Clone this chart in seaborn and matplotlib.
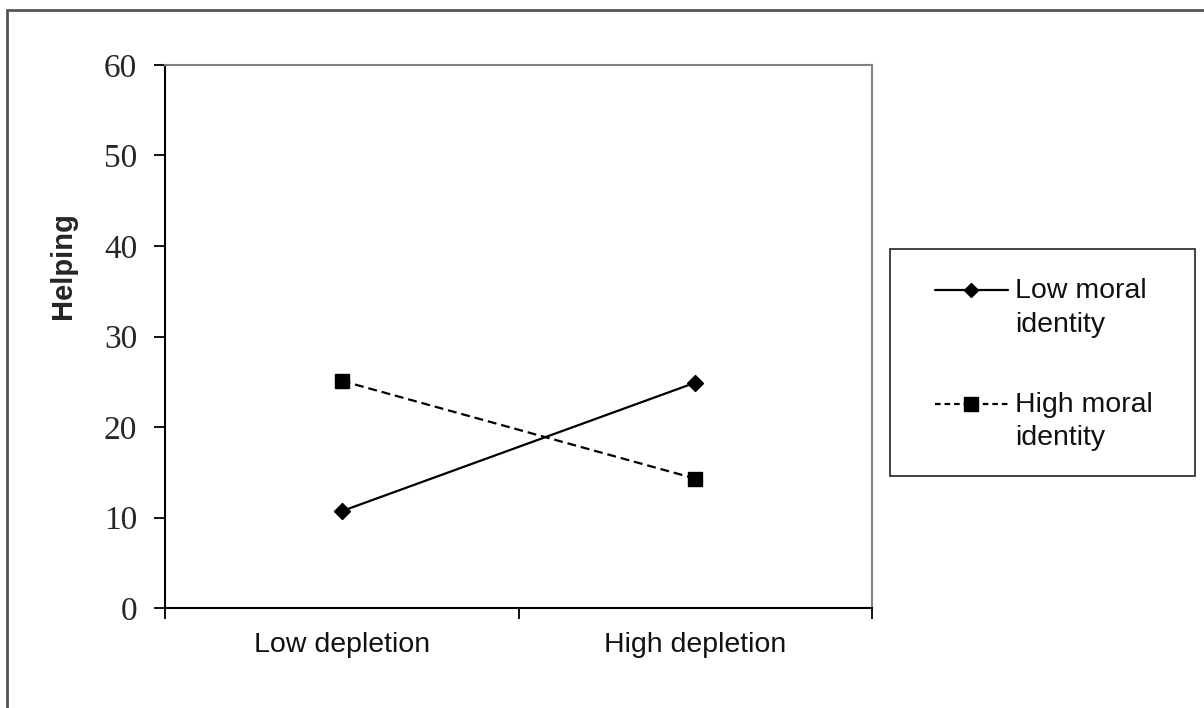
import numpy as np
import pandas as pd
import matplotlib
matplotlib.use("Agg")
import matplotlib.pyplot as plt
import seaborn as sns
from matplotlib.legend_handler import HandlerLine2D
from matplotlib.ticker import FixedLocator

# values
depletion = ["Low depletion", "High depletion"]
low_moral = [10.7, 24.9]
high_moral = [25.1, 14.3]
series_names = ["Low moral identity", "High moral identity"]
y_ticks = [0, 10, 20, 30, 40, 50, 60]

df = pd.DataFrame({
    "Depletion": depletion * 2,
    "Helping": low_moral + high_moral,
    "Identity": [series_names[0]] * 2 + [series_names[1]] * 2,
})

sns.set_style("ticks")

fig = plt.figure(figsize=(12.04, 7.08), dpi=100)
ax = fig.add_axes([165 / 1204, 1 - 608 / 708, 707 / 1204, 543 / 708])

markers = {series_names[0]: "D", series_names[1]: "s"}
dashes = {series_names[0]: "", series_names[1]: (4, 2.2)}
sns.lineplot(
    data=df, x="Depletion", y="Helping",
    hue="Identity", style="Identity",
    palette={n: "black" for n in series_names},
    markers=markers, dashes=dashes,
    sort=False, linewidth=1.6, markersize=10.5,
    markeredgecolor="black", markeredgewidth=1,
    legend=False, ax=ax,
)
for ln in ax.lines:
    if ln.get_marker() == "D":
        ln.set_markersize(8.5)

ax.set_xlim(-0.5, 1.5)
ax.set_ylim(0, 60)
ax.set_yticks(y_ticks)
ax.set_xticks([0, 1])
ax.set_xticklabels(depletion, fontfamily="Liberation Sans", fontsize=20.5, color="#111111")
ax.set_yticklabels([str(t) for t in y_ticks], fontfamily="Liberation Serif", fontsize=24)
ax.xaxis.set_minor_locator(FixedLocator([-0.5, 0.5, 1.5]))
ax.tick_params(axis="x", which="major", bottom=True, length=0, pad=17)
ax.tick_params(axis="x", which="minor", bottom=True, length=8, width=1.3, direction="out", color="black")
ax.tick_params(axis="y", which="major", left=True, length=8, width=1.3, direction="out", pad=12, color="black")

ax.set_xlabel("")
ax.set_ylabel("Helping", fontfamily="Liberation Sans", fontweight="bold", fontsize=21)
ax.yaxis.set_label_coords(-0.125, 0.63)

for side in ["left", "bottom"]:
    ax.spines[side].set_color("black")
    ax.spines[side].set_linewidth(1.5)
for side in ["top", "right"]:
    ax.spines[side].set_color("#808080")
    ax.spines[side].set_linewidth(1.5)


# legend handle sits on the first line of a two-line label
class FirstLineHandler(HandlerLine2D):
    def create_artists(self, legend, orig_handle, xdescent, ydescent, width, height, fontsize, trans):
        arts = super().create_artists(legend, orig_handle, xdescent, ydescent, width, height, fontsize, trans)
        for a in arts:
            a.set_ydata(np.asarray(a.get_ydata()) + 0.62 * fontsize)
        return arts


handles = [
    plt.Line2D([], [], color="black", lw=1.6, marker="D", markersize=7),
    plt.Line2D([], [], color="black", lw=1.6, ls=(0, (2.5, 1.8)), marker="s", markersize=9.5),
]
labels = ["Low moral\nidentity", "High moral\nidentity"]
leg = ax.legend(
    handles, labels, loc="upper left",
    bbox_to_anchor=(935 / 1204, 1 - 278 / 708), bbox_transform=fig.transFigure,
    frameon=False, borderpad=0, borderaxespad=0,
    handlelength=2.55, handletextpad=0.25, labelspacing=1.9,
    prop={"family": "Liberation Sans", "size": 20.5},
    handler_map={h: FirstLineHandler() for h in handles},
)
for t in leg.get_texts():
    t.set_linespacing(1.38)
    t.set_color("#111111")

fig.add_artist(plt.Rectangle((890 / 1204, 1 - 476 / 708), 305 / 1204, 227 / 708,
                             transform=fig.transFigure, fill=False, ec="#333333", lw=1.3))

# outer frame, only top and left edges visible
fig.add_artist(plt.Line2D([7 / 1204, 7 / 1204], [0, 1 - 10 / 708], transform=fig.transFigure,
                          color="#555555", lw=2))
fig.add_artist(plt.Line2D([7 / 1204, 1], [1 - 10 / 708, 1 - 10 / 708], transform=fig.transFigure,
                          color="#555555", lw=2))

fig.savefig("out.png", dpi=100)
